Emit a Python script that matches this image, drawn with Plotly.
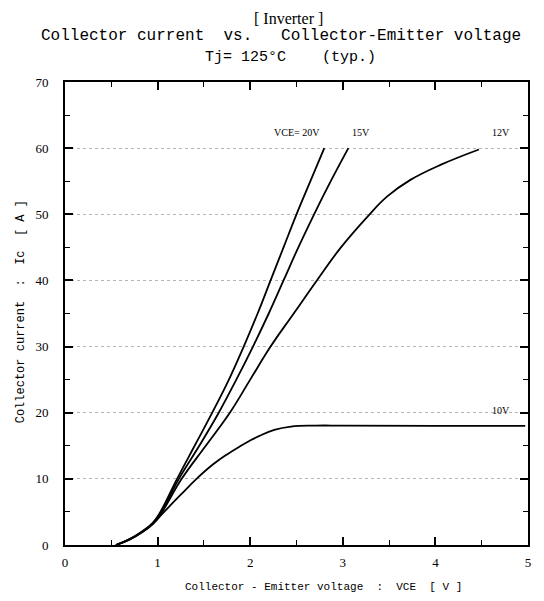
import plotly.graph_objects as go

# Data (VCE [V], Ic [A])
vce_20 = [0.55, 0.70, 0.84, 0.95, 1.03, 1.21, 1.40, 1.59, 1.77, 1.93, 2.08, 2.22, 2.36, 2.50, 2.65, 2.80]
ic_20 = [0, 0.9, 2.1, 3.4, 5, 10, 15, 20, 25, 30, 35, 40, 45, 50, 55, 60]

vce_15 = [0.55, 0.70, 0.84, 0.95, 1.04, 1.23, 1.45, 1.66, 1.85, 2.03, 2.20, 2.36, 2.52, 2.69, 2.87, 3.06]
ic_15 = [0, 0.9, 2.1, 3.3, 5, 10, 15, 20, 25, 30, 35, 40, 45, 50, 55, 60]

vce_12 = [0.55, 0.70, 0.84, 0.95, 1.04, 1.26, 1.52, 1.78, 2.00, 2.22, 2.47, 2.72, 2.98, 3.27, 3.48, 3.73, 4.06, 4.47]
ic_12 = [0, 0.85, 2.0, 3.2, 4.8, 10, 15, 20, 25, 30, 35, 40, 45, 49.7, 52.7, 55.2, 57.5, 59.8]

vce_10 = [0.55, 0.70, 0.84, 0.95, 1.05, 1.25, 1.42, 1.60, 1.75, 1.90, 2.00, 2.10, 2.26, 2.44, 2.70, 3.00, 4.00, 4.97]
ic_10 = [0, 0.85, 2.0, 3.2, 4.7, 7.6, 10, 12.2, 13.7, 15.0, 15.8, 16.5, 17.4, 17.9, 18.05, 18.05, 18.0, 18.0]

series = [
    ("VCE= 20V", vce_20, ic_20),
    ("15V", vce_15, ic_15),
    ("12V", vce_12, ic_12),
    ("10V", vce_10, ic_10),
]

curve_labels = ["VCE= 20V", "15V", "12V", "10V"]
label_x = [2.50, 3.20, 4.71, 4.71]
label_y = [62.4, 62.4, 62.4, 20.3]

x_ticks = [0, 1, 2, 3, 4, 5]
y_ticks = [0, 10, 20, 30, 40, 50, 60, 70]

SERIF = "Liberation Serif"
MONO = "Liberation Mono"

# page body has an 8px margin; place plot area at window px 65..531 x 82..545
OFF = 8
W, H = 528, 585
L, T = 65 - OFF, 82 - OFF
pw, ph = 466, 463
R, B = W - L - pw, H - T - ph


def px_to_paper(px, py):
    return (px - OFF - L) / pw, 1 - (py - OFF - T) / ph


fig = go.Figure()
for name, xs, ys in series:
    fig.add_trace(go.Scatter(
        x=xs, y=ys, mode="lines", name=name,
        line=dict(color="black", width=1.8, shape="spline", smoothing=1.2),
        showlegend=False,
    ))

for t, lx, ly in zip(curve_labels, label_x, label_y):
    fig.add_annotation(x=lx, y=ly, text=t, showarrow=False, xref="x", yref="y",
                       xanchor="center", yanchor="middle",
                       font=dict(family=SERIF, size=10, color="black"))

titles = [
    ("[ Inverter ]", 290, 18, SERIF, 16),
    ("Collector current  vs.   Collector-Emitter voltage", 282, 36, MONO, 16),
    ("Tj= 125°C    (typ.)", 292, 58, MONO, 15),
]
for t, px, py, fam, sz in titles:
    ax_, ay_ = px_to_paper(px, py)
    fig.add_annotation(x=ax_, y=ay_, xref="paper", yref="paper",
                       text=t, showarrow=False, xanchor="center", yanchor="middle",
                       font=dict(family=fam, size=sz, color="black"))

ax_, ay_ = px_to_paper(325, 587)
fig.add_annotation(x=ax_, y=ay_, xref="paper", yref="paper",
                   text="Collector - Emitter voltage  :  VCE  [ V ]", showarrow=False,
                   xanchor="center", yanchor="middle",
                   font=dict(family=MONO, size=11, color="black"))
ax_, ay_ = px_to_paper(21, 312)
fig.add_annotation(x=ax_, y=ay_, xref="paper", yref="paper",
                   text="Collector current  :  Ic  [ A ]", showarrow=False, textangle=-90,
                   xanchor="center", yanchor="middle",
                   font=dict(family=MONO, size=12, color="black"))

fig.update_xaxes(
    range=[0, 5], tickvals=x_ticks, ticktext=[str(v) for v in x_ticks],
    ticks="inside", ticklen=8, tickwidth=1.5, tickcolor="black",
    minor=dict(ticks="inside", dtick=0.5, ticklen=5, tickcolor="black", tickwidth=1),
    showline=True, linecolor="black", linewidth=2, mirror="allticks",
    showgrid=False, zeroline=False,
    tickfont=dict(family=SERIF, size=13, color="black"),
    ticklabelstandoff=4,
)
fig.update_yaxes(
    range=[0, 70], tickvals=y_ticks, ticktext=[str(v) for v in y_ticks],
    ticks="inside", ticklen=8, tickwidth=1.5, tickcolor="black",
    minor=dict(ticks="inside", dtick=5, ticklen=5, tickcolor="black", tickwidth=1),
    showline=True, linecolor="black", linewidth=2, mirror="allticks",
    showgrid=True, gridcolor="#b5b5b5", griddash="dot", gridwidth=1,
    zeroline=False,
    tickfont=dict(family=SERIF, size=13, color="black"),
    ticklabelstandoff=12,
)

fig.update_layout(
    width=W, height=H,
    margin=dict(l=L, r=R, t=T, b=B),
    paper_bgcolor="white", plot_bgcolor="white",
    showlegend=False,
)

fig.write_html("out.html")
